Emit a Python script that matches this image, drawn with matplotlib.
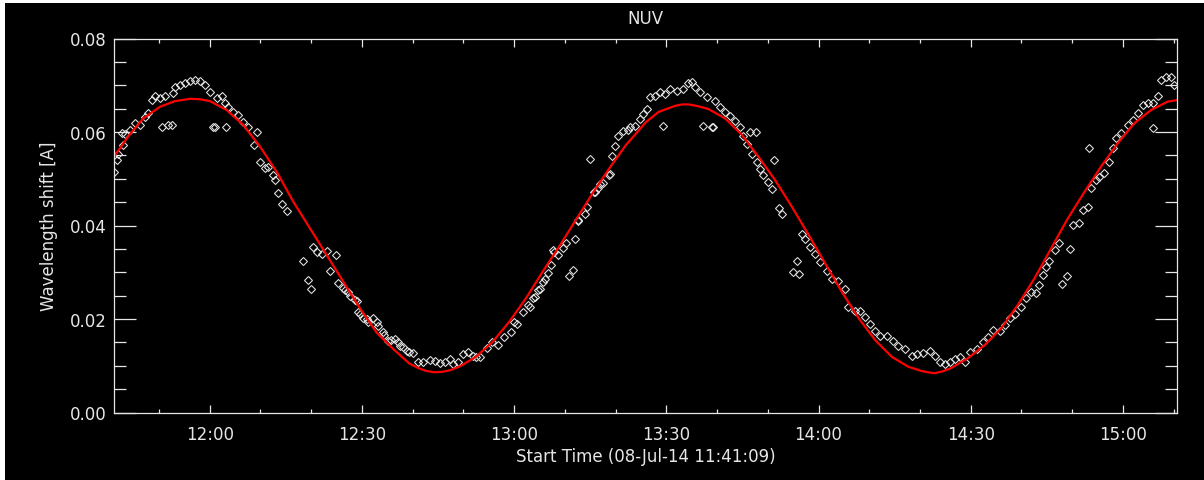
import matplotlib.pyplot as plt
from matplotlib.patches import Rectangle
from matplotlib.ticker import MultipleLocator, FixedLocator

# time in minutes after the start time 11:41:09
t_obs = [0.0, 0.53, 0.85, 1.52, 1.83, 2.17, 3.15, 4.14, 5.12, 6.11, 6.76, 7.43, 8.08, 9.06,
         10.05, 11.68, 12.02, 13.0, 13.99, 14.98, 15.96, 16.95, 17.93, 18.92, 20.24, 21.22,
         21.87, 22.52, 23.51, 24.49, 25.48, 26.46, 27.59, 28.12, 28.77, 29.75, 30.4, 31.39,
         31.72, 32.37, 33.04, 34.03,
         39.27, 39.94, 40.93, 41.91, 42.56, 43.68, 44.2, 45.18, 45.52, 46.17, 46.5, 47.49,
         47.82, 48.14, 48.47, 49.12, 49.79, 50.11, 51.09, 51.76, 52.08, 53.06, 53.26, 54.05,
         54.58, 55.37, 55.9, 56.35, 56.89, 57.68, 58.19, 58.98, 59.96, 60.95, 62.27, 63.25,
         64.24, 65.22, 66.21, 66.86, 67.84, 68.83, 69.81, 70.8, 71.33, 72.12, 73.44, 74.42,
         75.61, 76.91, 78.23, 78.88, 79.35, 80.53, 81.52, 81.97, 82.5, 82.96, 83.49, 83.94,
         84.47, 84.93, 85.46, 86.11, 86.44, 86.76, 87.43, 88.41, 89.06, 91.37, 91.49, 92.81,
         93.14, 94.64, 94.78, 95.31, 95.76, 96.3, 97.6, 97.73, 98.07, 98.72, 99.37, 100.35,
         101.22, 101.67, 102.66, 103.64, 104.29, 104.96, 105.62, 106.6, 107.59, 108.57,
         109.56, 110.88, 112.18, 113.16, 113.83, 114.48, 115.47, 116.79, 118.42, 119.41,
         120.39, 121.38, 122.36, 123.35, 124.0, 124.67, 125.65, 126.64, 127.29, 127.94,
         128.93, 129.59, 130.97, 131.57,
         135.51, 136.16, 137.14, 138.13, 139.11, 140.43, 141.42, 142.72, 144.04, 144.69,
         146.01, 147.0, 147.98, 148.97, 149.95, 150.94, 152.26, 153.56, 154.54, 155.86,
         157.18, 158.17, 159.47, 160.79, 161.77, 162.76, 163.74, 164.73, 165.71, 166.7,
         167.68, 168.67, 169.99, 171.29, 172.22, 173.26, 174.58, 175.51, 176.49, 177.48,
         178.78, 179.76, 180.75, 181.73, 182.4, 183.05, 183.7, 184.37, 185.36, 186.34,
         188.96, 190.28, 190.93, 191.92, 192.57, 193.55, 194.22, 195.21, 196.19, 196.85,
         197.5, 198.48, 199.8, 200.79, 201.77, 202.76, 203.74, 204.73, 205.71, 206.36,
         207.35, 208.33, 209.0]
shift_obs = [0.0515, 0.054, 0.0554, 0.0597, 0.0572, 0.0596, 0.0604, 0.0619, 0.0615, 0.0633,
             0.064, 0.0668, 0.0676, 0.0673, 0.0676, 0.0683, 0.0697, 0.07, 0.0704, 0.0709,
             0.0711, 0.0709, 0.07, 0.0686, 0.0672, 0.0676, 0.0661, 0.0654, 0.0643, 0.0636,
             0.0622, 0.0611, 0.0572, 0.0601, 0.0536, 0.0522, 0.0526, 0.0508, 0.0497, 0.0469,
             0.0447, 0.043,
             0.0354, 0.0344, 0.034, 0.0345, 0.0302, 0.0336, 0.0278, 0.0266, 0.0261, 0.0258,
             0.025, 0.0241, 0.0239, 0.0216, 0.0211, 0.0202, 0.02, 0.0194, 0.0203, 0.0194,
             0.0186, 0.0172, 0.0166, 0.0154, 0.0155, 0.0157, 0.0151, 0.0143, 0.0141, 0.0132,
             0.013, 0.0127, 0.0107, 0.0107, 0.0113, 0.0111, 0.0106, 0.0107, 0.0114, 0.0104,
             0.0107, 0.0125, 0.0129, 0.0121, 0.0119, 0.0118, 0.0139, 0.015, 0.0144, 0.0162,
             0.0173, 0.0194, 0.0189, 0.0216, 0.023, 0.0225, 0.0244, 0.0246, 0.0262, 0.0264,
             0.028, 0.0286, 0.0298, 0.0316, 0.0348, 0.0344, 0.0337, 0.0351, 0.0362, 0.0412,
             0.041, 0.0425, 0.0439, 0.0472, 0.0471, 0.048, 0.0489, 0.049, 0.0508, 0.051,
             0.0549, 0.0571, 0.0592, 0.0603, 0.0604, 0.061, 0.0613, 0.0628, 0.0639, 0.0649,
             0.0674, 0.0678, 0.0685, 0.0681, 0.0692, 0.0688, 0.0692, 0.0705, 0.0706, 0.0696,
             0.0685, 0.0674, 0.0667, 0.0653, 0.0642, 0.0635, 0.0624, 0.061, 0.0592, 0.0574,
             0.0553, 0.0535, 0.0521, 0.0507, 0.0492, 0.0478, 0.0437, 0.0425,
             0.0382, 0.0371, 0.0353, 0.0339, 0.0321, 0.0303, 0.0286, 0.0282, 0.0264, 0.0225,
             0.0218, 0.0218, 0.0204, 0.0189, 0.0175, 0.0164, 0.0164, 0.0154, 0.0143, 0.0136,
             0.0121, 0.0125, 0.0127, 0.0132, 0.0121, 0.0107, 0.0104, 0.0107, 0.0114, 0.0118,
             0.0107, 0.0129, 0.0136, 0.015, 0.0162, 0.0177, 0.0174, 0.0187, 0.0202, 0.021,
             0.0226, 0.0244, 0.0258, 0.0255, 0.0273, 0.0294, 0.0312, 0.0323, 0.0348, 0.0362,
             0.0401, 0.0405, 0.0433, 0.044, 0.048, 0.0497, 0.0504, 0.0512, 0.0536, 0.0565,
             0.0587, 0.0597, 0.0615, 0.0626, 0.064, 0.0658, 0.0661, 0.0661, 0.0676, 0.0711,
             0.0718, 0.0718, 0.07]

# points that stray off the main track
t_odd = [9.4, 10.7, 11.37, 19.57, 19.9, 22.01, 37.18, 38.29, 38.82, 89.6, 90.39, 90.84,
         93.85, 108.24, 116.0, 117.78, 118.13, 125.32, 126.5, 129.99, 133.73, 134.52,
         135.04, 186.8, 187.84, 188.32, 192.12, 204.73]
shift_odd = [0.0611, 0.0615, 0.0616, 0.0611, 0.0611, 0.0611, 0.0323, 0.0283, 0.0264, 0.0293,
             0.0305, 0.0371, 0.0542, 0.0613, 0.0612, 0.061, 0.061, 0.0599, 0.0599, 0.054,
             0.03, 0.0325, 0.0297, 0.0274, 0.0293, 0.035, 0.0565, 0.0609]

# red fitted curve
t_fit = [0.0, 2.9, 5.77, 9.06, 12.0, 14.98, 17.0, 18.92, 22.21, 25.48, 28.77, 32.06, 35.33,
         38.62, 41.91, 45.18, 48.47, 51.76, 54.92, 58.19, 60.0, 61.48, 63.1, 64.77, 66.4,
         68.04, 71.33, 74.62, 77.89, 81.18, 84.47, 87.74, 91.03, 94.33, 97.6, 100.89,
         104.83, 107.33, 110.6, 112.0, 113.24, 115.2, 117.18, 120.45, 123.74, 127.03, 130.3,
         133.6, 136.89, 140.16, 143.45, 146.74, 150.01, 153.3, 156.53, 159.07, 160.4,
         161.71, 163.3, 164.98, 168.28, 171.57, 174.84, 178.13, 181.42, 184.69, 187.98,
         191.27, 194.54, 197.83, 201.12, 204.39, 207.68, 209.32]
shift_fit = [0.0547, 0.0592, 0.0629, 0.0654, 0.0666, 0.0671, 0.0670, 0.0666, 0.0647, 0.0615,
             0.0569, 0.0515, 0.0451, 0.0394, 0.0337, 0.028, 0.0223, 0.0171, 0.0137, 0.0105,
             0.0095, 0.0089, 0.0086, 0.0087, 0.0091, 0.0098, 0.0119, 0.0151, 0.0194, 0.0244,
             0.0301, 0.0355, 0.0412, 0.0469, 0.0522, 0.0572, 0.0621, 0.0643, 0.0656, 0.0659,
             0.0659, 0.0655, 0.0649, 0.0629, 0.0594, 0.0547, 0.0497, 0.044, 0.038, 0.0319,
             0.0258, 0.0202, 0.0155, 0.0119, 0.0098, 0.0089, 0.0086, 0.0084, 0.0088, 0.0095,
             0.0116, 0.0144, 0.018, 0.023, 0.0287, 0.0351, 0.0415, 0.0472, 0.0526, 0.0576,
             0.0619, 0.0647, 0.0665, 0.0668]

t0 = 11 * 60 + 41 + 9 / 60.0          # start time in clock minutes
tick_clock = list(range(720, 901, 30))  # 12:00 ... 15:00
tick_labels = ["%d:%02d" % (m // 60, m % 60) for m in tick_clock]

fg = "#e6e6e6"
plt.rcParams["font.family"] = "DejaVu Sans"
plt.rcParams["font.size"] = 12

fig = plt.figure(figsize=(12.04, 4.81), dpi=100, facecolor="white")
# black canvas with thin white strip left/top like the screenshot
fig.add_artist(Rectangle((5 / 1204, 0), 1, 1 - 4 / 481, transform=fig.transFigure,
                         facecolor="black", edgecolor="none", zorder=-10))

W, H = 1204, 481
ax = fig.add_axes([114 / W, (H - 413.5) / H, (1177 - 114) / W, (413.5 - 39.5) / H])
ax.set_facecolor("black")

ax.plot(t_obs, shift_obs, linestyle="none", marker="D", ms=3.9, mfc="none",
        mec=fg, mew=0.75)
ax.plot(t_odd, shift_odd, linestyle="none", marker="D", ms=3.9, mfc="none",
        mec=fg, mew=0.75)
ax.plot(t_fit, shift_fit, color="#ff0000", lw=1.6)

ax.set_xlim(0, 209.5)
ax.set_ylim(0, 0.08)

ax.xaxis.set_major_locator(FixedLocator([m - t0 for m in tick_clock]))
ax.xaxis.set_minor_locator(FixedLocator([m - t0 for m in range(710, 911, 10)]))
ax.set_xticklabels(tick_labels)
ax.yaxis.set_major_locator(MultipleLocator(0.02))
ax.yaxis.set_minor_locator(MultipleLocator(0.005))
ax.yaxis.set_major_formatter(plt.FormatStrFormatter("%.2f"))

for s in ax.spines.values():
    s.set_color(fg)
    s.set_linewidth(0.9)

ax.tick_params(axis="both", which="both", direction="in", colors=fg, width=0.9,
               top=True, right=True, labelsize=12)
ax.tick_params(axis="x", which="major", length=5.8, pad=9)
ax.tick_params(axis="x", which="minor", length=2.9)
ax.tick_params(axis="y", which="major", length=15.8, pad=5)
ax.tick_params(axis="y", which="minor", length=8.6)

ax.set_title("NUV", color=fg, fontsize=12, pad=11)
ax.set_xlabel("Start Time (08-Jul-14 11:41:09)", color=fg, fontsize=12, labelpad=3)
ax.set_ylabel("Wavelength shift [A]", color=fg, fontsize=12, labelpad=9)

fig.savefig("out.png", dpi=100, facecolor=fig.get_facecolor())
